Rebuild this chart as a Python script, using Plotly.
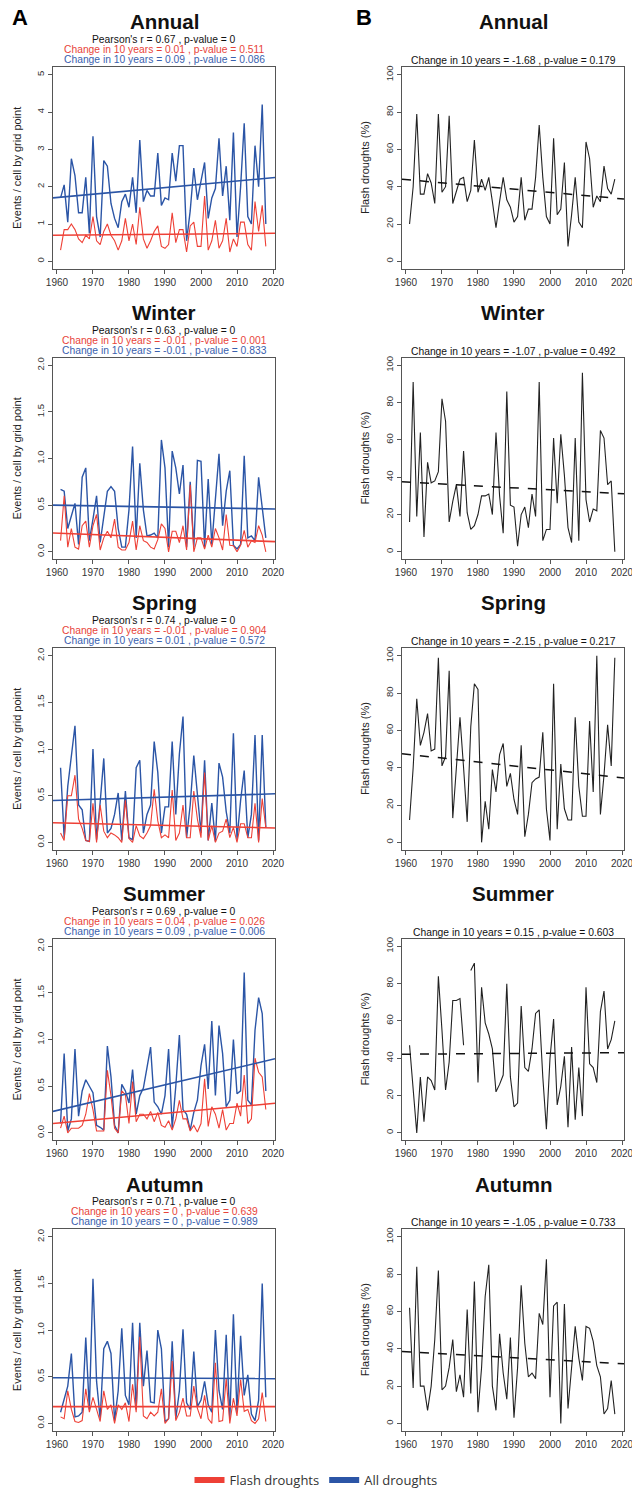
import plotly.graph_objects as go

W, H = 632, 1495

years = list(range(1961, 2019))
seasons = ["Annual", "Winter", "Spring", "Summer", "Autumn"]

# ---- Column A: events / cell by grid point (all droughts = blue, flash droughts = red)
all_annual = [1.70, 2.05, 1.05, 2.75, 2.30, 1.30, 1.30, 2.25, 0.75, 3.35,
              1.20, 0.65, 2.70, 2.55, 1.55, 1.15, 0.90, 1.60, 1.80, 1.45,
              2.25, 1.30, 3.25, 1.60, 1.90, 1.75, 1.75, 2.90, 1.50, 1.70,
              1.65, 2.90, 2.15, 3.10, 3.10, 0.55, 1.35, 2.50, 1.65, 2.20,
              2.65, 1.15, 1.70, 1.95, 3.30, 1.75, 2.55, 1.10, 3.45, 0.65,
              2.00, 3.70, 1.20, 1.00, 3.10, 2.00, 4.20, 1.00]
flash_annual = [0.30, 0.85, 0.85, 1.00, 0.85, 0.60, 0.50, 0.70, 0.60, 1.20,
                0.55, 0.45, 0.80, 1.00, 0.70, 0.55, 0.30, 0.55, 1.15, 0.55,
                1.00, 0.45, 1.45, 0.60, 0.35, 0.55, 0.80, 0.95, 0.40, 0.35,
                0.45, 1.30, 0.50, 0.85, 0.85, 0.25, 0.95, 1.05, 0.40, 0.40,
                1.75, 0.30, 0.55, 1.10, 0.35, 0.55, 1.15, 0.25, 0.60, 0.40,
                1.05, 1.05, 0.45, 0.30, 1.60, 0.80, 1.50, 0.40]

all_winter = [0.67, 0.65, 0.25, 0.40, 0.52, 0.08, 0.80, 0.90, 0.12, 0.35,
              0.60, 0.10, 0.40, 0.65, 0.70, 0.65, 0.25, 0.05, 0.05, 0.45,
              1.13, 0.15, 0.95, 0.45, 0.17, 0.18, 0.20, 0.15, 1.20, 0.90,
              0.05, 1.08, 0.90, 0.62, 0.93, 0.05, 0.75, 0.05, 0.98, 0.97,
              0.05, 0.78, 0.08, 0.55, 1.05, 0.28, 0.65, 0.87, 0.07, 0.03,
              0.08, 1.03, 0.15, 0.17, 0.12, 0.80, 0.45, 0.15]
flash_winter = [0.12, 0.60, 0.05, 0.25, 0.05, 0.03, 0.28, 0.33, 0.05, 0.28,
                0.40, 0.02, 0.15, 0.22, 0.15, 0.35, 0.05, 0.02, 0.02, 0.10,
                0.33, 0.02, 0.28, 0.12, 0.10, 0.05, 0.03, 0.13, 0.30, 0.25,
                0.00, 0.22, 0.22, 0.10, 0.28, 0.02, 0.72, 0.00, 0.15, 0.15,
                0.03, 0.18, 0.05, 0.25, 0.15, 0.02, 0.40, 0.07, 0.065, 0.00,
                0.07, 0.23, 0.05, 0.12, 0.10, 0.28, 0.18, 0.00]

all_spring = [0.80, 0.05, 0.60, 0.90, 1.25, 0.40, 0.35, 0.02, 0.01, 1.00,
              0.03, 0.43, 0.90, 0.10, 0.15, 0.30, 0.53, 0.02, 0.55, 0.05,
              0.03, 0.80, 0.88, 0.10, 0.30, 0.40, 1.08, 0.75, 0.10, 0.38,
              0.38, 1.08, 0.30, 0.95, 1.35, 0.05, 0.40, 0.93, 0.50, 0.10,
              0.88, 0.02, 0.42, 0.01, 0.85, 0.70, 0.33, 0.10, 1.17, 0.03,
              0.45, 0.77, 0.05, 0.30, 1.15, 0.02, 1.15, 0.16]
flash_spring = [0.10, 0.02, 0.50, 0.50, 0.72, 0.25, 0.15, 0.02, 0.01, 0.42,
                0.00, 0.40, 0.12, 0.05, 0.10, 0.08, 0.05, 0.00, 0.45, 0.04,
                0.00, 0.18, 0.07, 0.04, 0.10, 0.18, 0.57, 0.23, 0.05, 0.08,
                0.05, 0.56, 0.02, 0.10, 0.40, 0.05, 0.05, 0.55, 0.25, 0.05,
                0.75, 0.02, 0.18, 0.00, 0.10, 0.12, 0.25, 0.05, 0.16, 0.00,
                0.20, 0.20, 0.05, 0.05, 0.42, 0.00, 0.47, 0.16]

all_summer = [0.10, 0.85, 0.02, 0.15, 0.90, 0.18, 0.45, 0.57, 0.50, 0.43,
              0.08, 0.06, 0.03, 0.93, 0.60, 0.08, 0.00, 0.52, 0.45, 0.32,
              0.68, 0.20, 0.40, 0.48, 0.70, 0.92, 0.33, 0.28, 0.20, 0.40,
              0.90, 0.05, 0.50, 1.05, 0.25, 0.20, 0.03, 0.22, 0.35, 0.72,
              0.95, 0.47, 1.20, 0.40, 1.15, 0.85, 0.28, 0.35, 1.00, 0.42,
              0.45, 1.72, 0.35, 0.30, 1.10, 1.45, 1.28, 0.45]
flash_summer = [0.05, 0.18, 0.00, 0.05, 0.05, 0.05, 0.08, 0.20, 0.42, 0.25,
                0.02, 0.02, 0.02, 0.67, 0.40, 0.05, 0.00, 0.45, 0.41, 0.10,
                0.55, 0.12, 0.20, 0.20, 0.15, 0.23, 0.12, 0.22, 0.08, 0.06,
                0.13, 0.03, 0.15, 0.35, 0.15, 0.15, 0.02, 0.08, 0.01, 0.10,
                0.58, 0.07, 0.28, 0.20, 0.05, 0.25, 0.03, 0.10, 0.10, 0.32,
                0.18, 0.62, 0.10, 0.15, 0.80, 0.65, 0.60, 0.25]

all_autumn = [0.12, 0.25, 0.40, 0.75, 0.07, 0.08, 0.12, 0.92, 0.15, 1.55,
              0.45, 0.05, 0.80, 0.88, 0.75, 0.03, 0.35, 1.02, 0.30, 0.20,
              1.08, 0.15, 1.08, 0.40, 0.78, 0.23, 0.22, 1.00, 0.80, 0.02,
              0.05, 0.88, 0.05, 0.35, 1.01, 0.22, 0.15, 0.77, 0.18, 0.25,
              0.45, 0.20, 0.12, 1.00, 0.35, 0.15, 0.95, 0.05, 1.17, 0.12,
              0.94, 0.30, 0.52, 0.10, 0.03, 0.25, 1.50, 0.28]
flash_autumn = [0.07, 0.05, 0.35, 0.15, 0.02, 0.01, 0.03, 0.37, 0.12, 0.28,
                0.15, 0.02, 0.35, 0.15, 0.20, 0.00, 0.20, 0.15, 0.22, 0.02,
                0.42, 0.12, 0.93, 0.08, 0.05, 0.12, 0.08, 0.12, 0.37, 0.00,
                0.05, 0.67, 0.03, 0.12, 0.27, 0.08, 0.08, 0.40, 0.16, 0.05,
                0.30, 0.05, 0.00, 0.65, 0.02, 0.03, 0.48, 0.00, 0.27, 0.08,
                0.47, 0.13, 0.15, 0.03, 0.00, 0.05, 0.33, 0.02]

# ---- Column B: flash droughts (%) ; None = no droughts that season
pct_annual = [20, 40, 79, 36, 36, 47, 42, 31, 79, 37,
              40, 78, 31, 38, 44, 45, 32, 38, 65, 37,
              44, 38, 45, 32, 18, 32, 45, 33, 29, 21,
              24, 45, 22, 28, 28, 45, 73, 45, 24, 20,
              66, 25, 28, 53, 8, 25, 45, 21, 18, 64,
              55, 29, 35, 32, 51, 39, 36, 44]
pct_winter = [16, 91, 19, 64, 8, 48, 37, 38, 43, 82,
              70, 16, 27, 36, 19, 54, 21, 12, 14, 20,
              30, 30, 31, 20, 64, 30, 10, 86, 25, 24,
              3, 20, 24, 13, 31, 19, 91, 6, 12, 12,
              61, 26, 63, 41, 13, 5, 61, 6, 96, 28,
              16, 23, 22, 65, 61, 36, 38, 0]
pct_spring = [12, 40, 77, 52, 59, 69, 49, 50, 99, 41,
              46, 92, 13, 40, 67, 40, 11, 62, 85, 82,
              0, 22, 7, 39, 27, 47, 53, 30, 37, 23,
              15, 52, 3, 15, 32, 34, 35, 59, 18, 1,
              85, 7, 42, 18, 12, 12, 67, 30, 14, 14,
              65, 27, 100, 15, 36, 63, 41, 99]
pct_summer = [47, 22, 0, 30, 6, 30, 28, 23, 84, 55,
              23, 38, 71, 71, 72, 47, None, 87, 91, 27,
              78, 59, 53, 45, 22, 26, 31, 80, 30, 14,
              16, 68, 35, 33, 45, 64, 66, 30, 2, 40,
              61, 15, 25, 41, 3, 46, 7, 35, 9, 78,
              37, 35, 27, 65, 76, 45, 50, 60]
pct_autumn = [62, 19, 84, 20, 20, 7, 20, 45, 82, 18,
              20, 30, 45, 17, 26, 14, 61, 16, 76, 6,
              30, 68, 85, 20, 7, 48, 27, 13, 46, 3,
              30, 74, 43, 25, 27, 24, 59, 53, 88, 14,
              63, 65, 0, 64, 8, 31, 52, 35, 23, 52,
              51, 44, 31, 25, 5, 8, 23, 5]

# ---- Linear trends (value at 1960, value at 2020)
trend_all = [(1.71, 2.24), (0.50, 0.46), (0.45, 0.52), (0.24, 0.79), (0.49, 0.48)]
trend_flash = [(0.70, 0.75), (0.20, 0.11), (0.21, 0.155), (0.105, 0.315), (0.18, 0.18)]
trend_pct = [(43.8, 33.5), (37.4, 31.2), (47.3, 34.6), (42.2, 43.0), (38.4, 32.0)]

# ---- Statistics shown in the panel headers
pearson_r = ["0.67", "0.63", "0.74", "0.69", "0.71"]
flash_change = [("0.01", "0.511"), ("-0.01", "0.001"), ("-0.01", "0.904"), ("0.04", "0.026"), ("0", "0.639")]
all_change = [("0.09", "0.086"), ("-0.01", "0.833"), ("0.01", "0.572"), ("0.09", "0.006"), ("0", "0.989")]
pct_change = [("-1.68", "0.179"), ("-1.07", "0.492"), ("-2.15", "0.217"), ("0.15", "0.603"), ("-1.05", "0.733")]

all_series = [all_annual, all_winter, all_spring, all_summer, all_autumn]
flash_series = [flash_annual, flash_winter, flash_spring, flash_summer, flash_autumn]
pct_series = [pct_annual, pct_winter, pct_spring, pct_summer, pct_autumn]
for s in all_series + flash_series + pct_series:
    assert len(s) == len(years)

# ---- Styling / layout constants
RED = "#EE4036"
BLUE = "#2B55A6"
RED_TXT = "#E8443A"
BLUE_TXT = "#3A61AE"
FONT = "Liberation Sans, Arial, sans-serif"
A_X0, A_X1 = 53, 275
B_X0, B_X1 = 402, 624
ROW = 291.3
TOP0, BOT0 = 67.5, 269.5
XR = [1958.9, 2020.55]


def px(x):
    return x / W


def py(y):
    return 1 - y / H


def trend_line(v):
    v0, v1 = v
    return [v0 + (x - 1960) * (v1 - v0) / 60.0 for x in XR]


fig = go.Figure()
layout = {}
annotations = []

axis_common = dict(showline=True, mirror=True, linecolor="#555555", linewidth=1,
                   ticks="outside", ticklen=4, tickcolor="#555555", tickwidth=1,
                   showgrid=False, zeroline=False, automargin=False,
                   ticklabeloverflow="allow",
                   tickfont=dict(family=FONT, size=10, color="#333333"))

for k, season in enumerate(seasons):
    top = TOP0 + ROW * k
    bot = BOT0 + ROW * k
    ydom = [py(bot), py(top)]
    for c in range(2):
        n = 2 * k + c + 1
        xname = "xaxis" if n == 1 else f"xaxis{n}"
        yname = "yaxis" if n == 1 else f"yaxis{n}"
        xref = "x" if n == 1 else f"x{n}"
        yref = "y" if n == 1 else f"y{n}"
        x0, x1 = (A_X0, A_X1) if c == 0 else (B_X0, B_X1)
        layout[xname] = dict(axis_common, domain=[px(x0), px(x1)], anchor=yref, range=XR,
                             tickvals=[1960, 1970, 1980, 1990, 2000, 2010, 2020])
        if c == 0:
            if k == 0:
                yax = dict(range=[-0.2, 5.2], tickvals=[0, 1, 2, 3, 4, 5])
            else:
                yax = dict(range=[-0.08, 2.08], tickvals=[0, 0.5, 1.0, 1.5, 2.0], tickformat=".1f")
        else:
            yax = dict(range=[-4, 104], tickvals=[0, 20, 40, 60, 80, 100])
        layout[yname] = dict(axis_common, domain=ydom, anchor=xref, tickangle=-90, **yax)
        layout[yname]["tickfont"] = dict(family=FONT, size=9.5, color="#333333")

        if c == 0:
            fig.add_trace(go.Scatter(x=years, y=all_series[k], mode="lines",
                                     line=dict(color=BLUE, width=1.4), xaxis=xref, yaxis=yref,
                                     showlegend=False, hoverinfo="skip"))
            fig.add_trace(go.Scatter(x=years, y=flash_series[k], mode="lines",
                                     line=dict(color=RED, width=1.1), xaxis=xref, yaxis=yref,
                                     showlegend=False, hoverinfo="skip"))
            fig.add_trace(go.Scatter(x=XR, y=trend_line(trend_all[k]), mode="lines",
                                     line=dict(color=BLUE, width=1.6), xaxis=xref, yaxis=yref,
                                     showlegend=False, hoverinfo="skip"))
            fig.add_trace(go.Scatter(x=XR, y=trend_line(trend_flash[k]), mode="lines",
                                     line=dict(color=RED, width=1.6), xaxis=xref, yaxis=yref,
                                     showlegend=False, hoverinfo="skip"))
        else:
            fig.add_trace(go.Scatter(x=years, y=pct_series[k], mode="lines", connectgaps=False,
                                     line=dict(color="#222222", width=1.1), xaxis=xref, yaxis=yref,
                                     showlegend=False, hoverinfo="skip"))
            fig.add_trace(go.Scatter(x=XR, y=trend_line(trend_pct[k]), mode="lines",
                                     line=dict(color="#111111", width=1.5, dash="dash"),
                                     xaxis=xref, yaxis=yref, showlegend=False, hoverinfo="skip"))

        cx = (x0 + x1) / 2
        # panel title
        annotations.append(dict(text=season, x=px(cx), y=py(22 + ROW * k), xref="paper", yref="paper",
                                xanchor="center", yanchor="middle", showarrow=False,
                                font=dict(family=FONT, size=20.5, color="#111111", weight="bold")))
        # y axis title
        ytitle = "Events / cell by grid point" if c == 0 else "Flash droughts (%)"
        ytx = 17 if c == 0 else 365
        annotations.append(dict(text=ytitle, x=px(ytx), y=py((top + bot) / 2), xref="paper", yref="paper",
                                xanchor="center", yanchor="middle", showarrow=False, textangle=-90,
                                font=dict(family=FONT, size=11, color="#222222")))
        if c == 0:
            lines = [(f"Pearson's r = {pearson_r[k]} , p-value = 0", "#111111", 40),
                     (f"Change in 10 years = {flash_change[k][0]} , p-value = {flash_change[k][1]}", RED_TXT, 50),
                     (f"Change in 10 years = {all_change[k][0]} , p-value = {all_change[k][1]}", BLUE_TXT, 60)]
        else:
            lines = [(f"Change in 10 years = {pct_change[k][0]} , p-value = {pct_change[k][1]}", "#111111", 61)]
        for txt, col, yy in lines:
            annotations.append(dict(text=txt, x=px(cx), y=py(yy + ROW * k), xref="paper", yref="paper",
                                    xanchor="center", yanchor="middle", showarrow=False,
                                    font=dict(family=FONT, size=10.3, color=col)))

# panel letters
for letter, lx in (("A", 20), ("B", 364)):
    annotations.append(dict(text=letter, x=px(lx), y=py(18), xref="paper", yref="paper",
                            xanchor="center", yanchor="middle", showarrow=False,
                            font=dict(family=FONT, size=22, color="#000000", weight="bold")))

# legend entries
fig.add_trace(go.Scatter(x=[None], y=[None], mode="lines", name="Flash droughts",
                         line=dict(color=RED, width=6), showlegend=True))
fig.add_trace(go.Scatter(x=[None], y=[None], mode="lines", name="All droughts",
                         line=dict(color=BLUE, width=6), showlegend=True))

fig.update_layout(
    width=W, height=H,
    margin=dict(l=0, r=0, t=0, b=0),
    paper_bgcolor="white", plot_bgcolor="white",
    annotations=annotations,
    showlegend=True,
    legend=dict(orientation="h", x=0.5, xanchor="center", y=py(1484), yanchor="middle",
                font=dict(family="Open Sans, Noto Sans, sans-serif", size=13, color="#333333"),
                itemwidth=30, bgcolor="rgba(0,0,0,0)", traceorder="normal"),
    **layout,
)

# remove the browser's default 8px page margin so the figure fills the window exactly
fig.write_html("out.html", config={"displayModeBar": False},
               post_script="document.body.style.margin='0';")
